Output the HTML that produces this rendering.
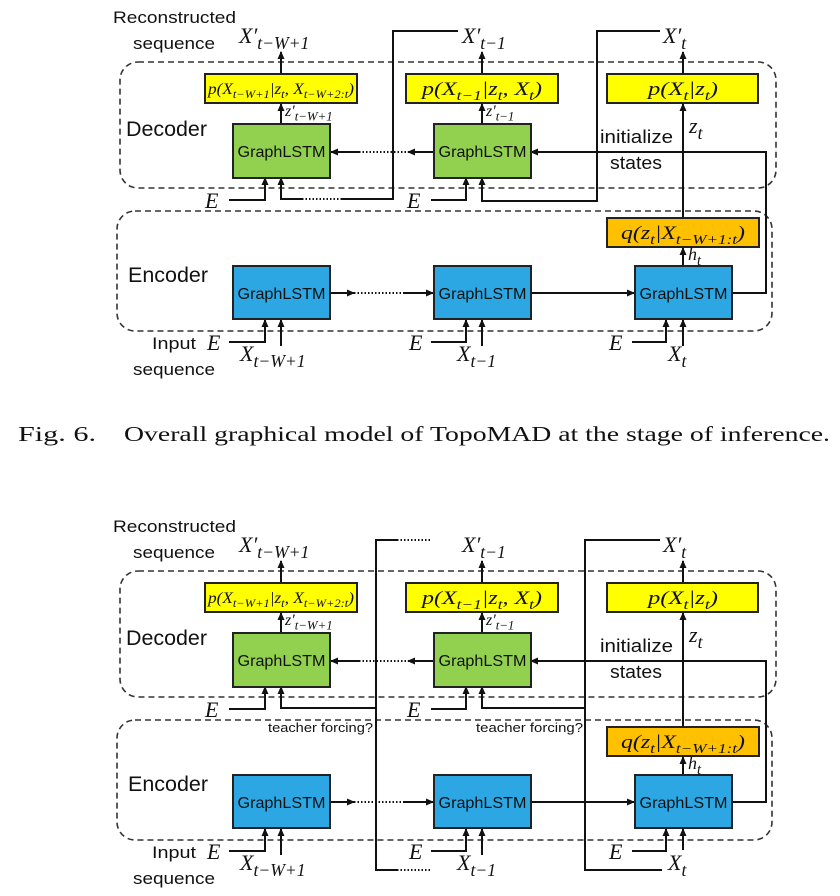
<!DOCTYPE html>
<html><head><meta charset="utf-8"><style>
html,body{margin:0;padding:0;background:#fff;}
svg{display:block;}
</style></head><body>
<svg id="fig" width="840" height="896" viewBox="0 0 840 896" xmlns="http://www.w3.org/2000/svg">
<defs>
<marker id="ah" markerWidth="8" markerHeight="8" refX="7" refY="4" orient="auto" markerUnits="userSpaceOnUse">
<path d="M0,0.5 L8,4 L0,7.5 Z" fill="#111"/>
</marker>
</defs>
<text x="18" y="441" font-family="Liberation Serif, serif" font-size="21" fill="#111" textLength="78" lengthAdjust="spacingAndGlyphs">Fig. 6.</text>
<text x="124" y="441" font-family="Liberation Serif, serif" font-size="21" fill="#111" textLength="706" lengthAdjust="spacingAndGlyphs">Overall graphical model of TopoMAD at the stage of inference.</text>
</svg>
<script>
const NS='http://www.w3.org/2000/svg';
const svg=document.getElementById('fig');
const diagramOffsets=[0,509];
const diagramVariants=['inference','teacher-forcing'];
function mk(tag,attrs,name,parent){
  const el=document.createElementNS(NS,tag);
  for(const k in attrs) el.setAttribute(k,attrs[k]);
  
  
  parent.appendChild(el);
  return el;
}
function line(p,d,name,arrow,dotted){
  const a={d:d,fill:'none',stroke:'#111','stroke-width':2};
  if(arrow) a['marker-end']='url(#ah)';
  if(dotted){a['stroke-dasharray']='1.5 2';a['stroke-width']=2;}
  return mk('path',a,name,p);
}
function box(p,x,y,w,h,fill,name){
  return mk('rect',{x:x,y:y,width:w,height:h,fill:fill,stroke:'#222','stroke-width':2},name,p);
}
function sans(p,x,y,s,size,name,len,anchor){
  const a={x:x,y:y,'font-family':'Liberation Sans, sans-serif','font-size':size,fill:'#111'};
  if(len){a.textLength=len;a.lengthAdjust='spacingAndGlyphs';}
  if(anchor) a['text-anchor']=anchor;
  const t=mk('text',a,name,p);t.textContent=s;return t;
}
function math(p,x,y,main,sub,size,name){
  const t=mk('text',{x:x,y:y,'font-family':'Liberation Serif, serif','font-style':'italic','font-size':size,fill:'#111'},name,p);
  const m=document.createElementNS(NS,'tspan');m.textContent=main;t.appendChild(m);
  if(sub){const s=document.createElementNS(NS,'tspan');s.setAttribute('dy',size*0.28);s.setAttribute('font-size',size*0.8);s.textContent=sub;t.appendChild(s);}
  return t;
}
// parts: array of [text, isSub]
function ytext(p,cx,y,parts,len,size,name){
  const t=mk('text',{x:cx-len/2,y:y,'font-family':'Liberation Serif, serif','font-style':'italic','font-size':size,fill:'#111',textLength:len,lengthAdjust:'spacingAndGlyphs'},name,p);
  let sub=false;
  parts.forEach(pt=>{
    const s=document.createElementNS(NS,'tspan');
    if(pt[1]&&!sub){s.setAttribute('dy',size*0.25);s.setAttribute('font-size',size*0.72);}
    else if(pt[1]){s.setAttribute('font-size',size*0.72);}
    else if(!pt[1]&&sub){s.setAttribute('dy',-size*0.25);}
    sub=pt[1];
    s.textContent=pt[0];t.appendChild(s);
  });
  return t;
}
function draw(dy,variant){
  const g=mk('g',{transform:'translate(0,'+dy+')'},'diagram-'+variant,svg);
  const tf=variant==='teacher-forcing';
  mk('rect',{x:120,y:62,width:656,height:126,rx:18,fill:'none',stroke:'#333','stroke-width':1.6,'stroke-dasharray':'6 4'},'decoder-region',g);
  mk('rect',{x:117,y:211,width:655,height:120,rx:18,fill:'none',stroke:'#333','stroke-width':1.6,'stroke-dasharray':'6 4'},'encoder-region',g);
  sans(g,113,23,'Reconstructed',17,'reconstructed-label',123);
  sans(g,133,49,'sequence',17,'reconstructed-sequence-label',82);
  sans(g,126,136,'Decoder',21,'decoder-label',81);
  sans(g,128,282,'Encoder',21,'encoder-label',80);
  sans(g,152,349,'Input',17,'input-label',44);
  sans(g,133,375,'sequence',17,'input-sequence-label',82);
  line(g,'M281,74 V52','output-arrow-1',true);
  line(g,'M482,74 V52','output-arrow-2',true);
  line(g,'M683,74 V52','output-arrow-3',true);
  if(!tf){
    line(g,'M458,31 H393 V199 H342','feedback-line-1');
    line(g,'M342,199 H300','feedback-line-1-dotted',false,true);
    line(g,'M302,199 H281 V178','feedback-arrow-1',true);
    line(g,'M660,31 H597 V201 H482 V178','feedback-line-2',true);
  }else{
    line(g,'M397,31 H376 V361 H397','teacher-line-1');
    line(g,'M397,31 H432','teacher-line-1-dotted-top',false,true);
    line(g,'M397,361 H430','teacher-line-1-dotted-bottom',false,true);
    line(g,'M376,199 H281 V178','teacher-arrow-1',true);
    line(g,'M660,31 H585 V361 H662','teacher-line-2');
    line(g,'M585,199 H482 V178','teacher-arrow-2',true);
    sans(g,268,223,'teacher forcing?',13,'teacher-forcing-label-1',105);
    sans(g,476,223,'teacher forcing?',13,'teacher-forcing-label-2',107);
  }
  line(g,'M434,152 H408','decoder-arrow-a',true);
  line(g,'M406,152 H358','decoder-dotted',false,true);
  line(g,'M360,152 H331','decoder-arrow-b',true);
  line(g,'M731,293 H766 V152 H531','state-init-line',true);
  line(g,'M330,293 H354','encoder-arrow-a',true);
  line(g,'M354,293 H406','encoder-dotted',false,true);
  line(g,'M404,293 H433','encoder-arrow-b',true);
  line(g,'M530,293 H634','encoder-arrow-c',true);
  line(g,'M683,218 V104','zt-arrow',true);
  line(g,'M683,266 V248','ht-arrow',true);
  line(g,'M229,200 H265 V178','dec-e-input-1',true);
  line(g,'M431,200 H466 V178','dec-e-input-2',true);
  line(g,'M229,342 H265 V320','enc-e-input-1',true);
  line(g,'M431,342 H466 V320','enc-e-input-2',true);
  line(g,'M632,342 H666 V320','enc-e-input-3',true);
  line(g,'M281,346 V320','enc-x-input-1',true);
  line(g,'M482,346 V320','enc-x-input-2',true);
  line(g,tf?'M683,341 V320':'M683,346 V320','enc-x-input-3',true);
  line(g,'M281,124 V104','latent-arrow-1',true);
  line(g,'M482,124 V104','latent-arrow-2',true);
  box(g,205,74,152,29,'#ffff00','decoder-output-dist-1');
  box(g,406,74,152,29,'#ffff00','decoder-output-dist-2');
  box(g,607,74,151,29,'#ffff00','decoder-output-dist-3');
  ytext(g,281,94,[['p(X',0],['t−W+1',1],['|z',0],['t',1],[', X',0],['t−W+2:t',1],[')',0]],146,16,'dist-label-1');
  ytext(g,482,95,[['p(X',0],['t−1',1],['|z',0],['t',1],[', X',0],['t',1],[')',0]],120,19,'dist-label-2');
  ytext(g,683,95,[['p(X',0],['t',1],['|z',0],['t',1],[')',0]],70,19,'dist-label-3');
  box(g,607,218,152,29,'#ffc000','encoder-posterior-box');
  ytext(g,683,239,[['q(z',0],['t',1],['|X',0],['t−W+1:t',1],[')',0]],124,19,'posterior-label');
  [233,434].forEach((x,i)=>{
    box(g,x,124,97,54,'#92d050','decoder-graphlstm-'+(i+1));
    sans(g,x+48.5,157,'GraphLSTM',16,'decoder-graphlstm-label-'+(i+1),88,'middle');
  });
  [233,434,635].forEach((x,i)=>{
    box(g,x,266,97,53,'#2da7e3','encoder-graphlstm-'+(i+1));
    sans(g,x+48.5,299,'GraphLSTM',16,'encoder-graphlstm-label-'+(i+1),88,'middle');
  });
  math(g,239,43,'X′','t−W+1',22,'output-label-1');
  math(g,462,43,'X′','t−1',22,'output-label-2');
  math(g,663,43,'X′','t',22,'output-label-3');
  math(g,285,116,'z′','t−W+1',16,'latent-label-1');
  math(g,486,116,'z′','t−1',16,'latent-label-2');
  math(g,689,133,'z','t',22,'zt-label');
  math(g,688,260,'h','t',18,'ht-label');
  sans(g,600,143,'initialize',18,'initialize-label',73);
  sans(g,610,169,'states',18,'states-label',52);
  math(g,205,208,'E','',22,'dec-e-label-1');
  math(g,407,208,'E','',22,'dec-e-label-2');
  math(g,207,350,'E','',22,'enc-e-label-1');
  math(g,409,350,'E','',22,'enc-e-label-2');
  math(g,609,350,'E','',22,'enc-e-label-3');
  math(g,240,361,'X','t−W+1',22,'input-label-1');
  math(g,457,361,'X','t−1',22,'input-label-2');
  math(g,668,361,'X','t',22,'input-label-3');
}
diagramOffsets.forEach((dy,i)=>draw(dy,diagramVariants[i]));
</script>
</body></html>
